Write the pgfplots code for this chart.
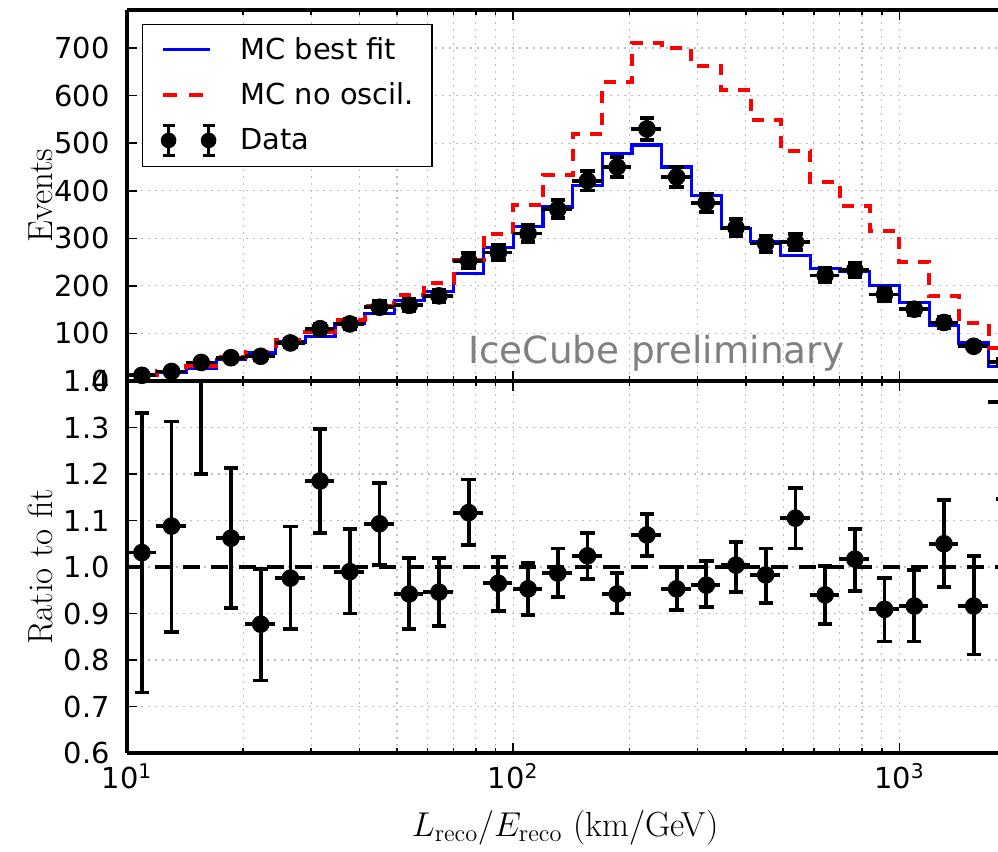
\documentclass[border=0pt]{standalone}
\usepackage{fontspec}
\newfontfamily\dejavu{DejaVu Sans}
\usepackage{pgfplots}
\usepackage{pgfplotstable}
\pgfplotsset{compat=1.18}
\usetikzlibrary{calc}

\definecolor{gridgray}{RGB}{190,190,190}
\definecolor{prelim}{RGB}{128,128,128}
\definecolor{fitblue}{RGB}{0,0,255}
\definecolor{noosred}{RGB}{255,0,0}

\newcommand{\TickFont}{\dejavu\fontsize{14.5}{17}\selectfont}
\newcommand{\LabFont}{\fontsize{17.5}{21}\selectfont}

% data points: bin centre, events, sqrt(N)
\pgfplotstableread{
x n e
10.93 12 3.5
13.04 20 4.5
15.57 39 6.2
18.59 49 7.0
22.19 52 7.2
26.49 80 8.9
31.62 110 10.5
37.75 120 11.0
45.06 155 12.4
53.80 159 12.6
64.22 179 13.4
76.67 253 15.9
91.52 270 16.4
109.26 310 17.6
130.43 361 19.0
155.71 421 20.5
185.88 450 21.2
221.9 530 23.0
264.9 429 20.7
316.2 375 19.4
377.5 322 17.9
450.6 289 17.0
538.0 292 17.1
642.2 222 14.9
766.7 234 15.3
915.2 182 13.5
1092.6 151 12.3
1304.3 123 11.1
1557.1 73 8.5
1858.8 40 6.3
}\datatab

% histogram steps: left bin edge, best fit, no oscillation
\pgfplotstableread{
x fit noosc
10 11.6 12
11.938 18.4 21
14.251 26 32
17.012 46 50
20.309 59 62
24.245 82 87
28.943 93 102
34.551 121 128
41.246 142 158
49.239 169 180
58.780 189 205
70.170 226 255
83.767 280 310
100 325 370
119.38 366 433
142.51 411 519
170.12 478 628
203.09 496 710
242.45 450 700
289.43 390 663
345.51 321 612
412.46 294 548
492.39 264 484
587.80 236 418
701.70 230 367
837.67 200 315
1000 165 250
1193.8 117 178
1425.1 80 121
1701.2 30 70
2030.9 30 70
}\histtab

% ratio data / fit
\pgfplotstableread{
x r ep em
10.93 1.031 0.301 0.301
13.04 1.088 0.225 0.227
15.57 1.50 0.30 0.30
18.59 1.062 0.151 0.150
22.19 0.877 0.119 0.121
26.49 0.976 0.111 0.110
31.62 1.185 0.112 0.112
37.75 0.990 0.092 0.090
45.06 1.093 0.088 0.088
53.80 0.942 0.078 0.076
64.22 0.946 0.074 0.073
76.67 1.117 0.071 0.070
91.52 0.965 0.057 0.060
109.26 0.953 0.055 0.056
130.43 0.987 0.053 0.052
155.71 1.024 0.049 0.050
185.88 0.942 0.045 0.042
221.9 1.069 0.045 0.045
264.9 0.953 0.047 0.046
316.2 0.961 0.052 0.047
377.5 1.004 0.050 0.058
450.6 0.983 0.057 0.060
538.0 1.105 0.065 0.065
642.2 0.940 0.062 0.063
766.7 1.017 0.065 0.069
915.2 0.909 0.067 0.069
1092.6 0.916 0.078 0.076
1304.3 1.050 0.094 0.093
1557.1 0.916 0.108 0.104
1858.8 1.355 0.210 0.209
}\ratiotab

\begin{document}
\begin{tikzpicture}
\begin{axis}[
    name=top, scale only axis, width=435.5bp, height=185.5bp,
    xmode=log, xmin=10, xmax=1800, ymin=0, ymax=780,
    axis x line*=box, axis y line*=left,
    axis line style={line width=2bp, black},
    tick align=inside, xtick pos=both,
    xtick={10,100,1000},
    minor xtick={20,30,40,50,60,70,80,90,200,300,400,500,600,700,800,900},
    major tick length=5bp, minor tick length=2.5bp,
    tick style={black, line width=0.8bp},
    xmajorgrids=true, xminorgrids=true, ymajorgrids=true,
    grid style={gridgray, line width=0.6bp, dash pattern=on 1bp off 2.5bp},
    yticklabel style={font=\TickFont, inner xsep=0pt, xshift=-8.5bp},
    xticklabels={},
    /pgf/number format/assume math mode=true,
    ytick={0,100,200,300,400,500,600,700},
    ylabel={Events},
    ylabel style={at={(axis description cs:-0.0987,0.5)}, anchor=center, font=\LabFont},
    legend cell align=left,
    legend style={at={(0,1)}, anchor=north west, xshift=7.5bp, yshift=-7bp,
      draw=black, line width=0.6bp, fill=white, inner xsep=9bp, inner ysep=4.5bp,
      row sep=6.5bp, font=\TickFont, nodes={inner sep=0pt, draw=none}},
]
\addplot[fitblue, line width=1.6bp, const plot mark left, forget plot] table[x=x, y=fit] {\histtab};
\addplot[noosred, line width=2bp, dash pattern=on 6bp off 5bp, const plot mark left, forget plot] table[x=x, y=noosc] {\histtab};
\addplot[black, only marks, mark=none, forget plot,
    error bars/x dir=both, error bars/x fixed relative=0.088, error bars/error mark=none,
    error bars/error bar style={line width=1.9bp}] table[x=x, y=n] {\datatab};
\addplot[black, only marks, mark=*, mark size=4.2bp, mark options={fill=black}, forget plot,
    error bars/y dir=both, error bars/y explicit,
    error bars/error bar style={line width=1.9bp},
    error bars/error mark options={rotate=90, line width=1.9bp, mark size=3.6bp}]
    table[x=x, y=n, y error=e] {\datatab};

\addlegendimage{legend image code/.code={
  \draw[fitblue, line width=1.6bp] (0bp,0bp) -- (23.5bp,0bp);
  \path[draw=none, fill=none] (0bp,-8bp) rectangle (39bp,8bp);}}
\addlegendentry{MC best fit}
\addlegendimage{legend image code/.code={
  \draw[noosred, line width=2bp, dash pattern=on 7bp off 6bp] (0bp,0bp) -- (23.5bp,0bp);
  \path[draw=none, fill=none] (0bp,-8bp) rectangle (39bp,8bp);}}
\addlegendentry{MC no oscil.}
\addlegendimage{legend image code/.code={
  \draw[black, line width=1.8bp] (3bp,-7.5bp) -- (3bp,7.5bp) (23bp,-7.5bp) -- (23bp,7.5bp)
    (0bp,-7.5bp) -- (6bp,-7.5bp) (0bp,7.5bp) -- (6bp,7.5bp)
    (20bp,-7.5bp) -- (26bp,-7.5bp) (20bp,7.5bp) -- (26bp,7.5bp);
  \fill[black] (3bp,0bp) circle (3.6bp) (23bp,0bp) circle (3.6bp);
  \path[draw=none, fill=none] (0bp,-8bp) rectangle (39bp,8bp);}}
\addlegendentry{Data}

\node[anchor=base west, inner sep=0pt, text=prelim, font=\dejavu\fontsize{18.75}{22}\selectfont]
  at (rel axis cs:0.3915,0.0485) {IceCube preliminary};
\end{axis}

\begin{axis}[
    name=bot, scale only axis, width=435.5bp, height=186bp,
    at={(top.south west)}, anchor=north west,
    xmode=log, xmin=10, xmax=1800, ymin=0.6, ymax=1.4,
    axis x line*=box, axis y line*=left,
    axis line style={line width=2bp, black},
    tick align=inside, xtick pos=both,
    xtick={10,100,1000},
    minor xtick={20,30,40,50,60,70,80,90,200,300,400,500,600,700,800,900},
    major tick length=5bp, minor tick length=2.5bp,
    tick style={black, line width=0.8bp},
    xmajorgrids=true, xminorgrids=true, ymajorgrids=true,
    grid style={gridgray, line width=0.6bp, dash pattern=on 1bp off 2.5bp},
    ytick={0.6,0.7,0.8,0.9,1.0,1.1,1.2,1.3,1.4},
    yticklabel style={font=\TickFont, inner xsep=0pt, xshift=-8.5bp,
      /pgf/number format/fixed, /pgf/number format/fixed zerofill, /pgf/number format/precision=1},
    /pgf/number format/assume math mode=true,
    xticklabel pos=lower,
    xticklabel style={font=\TickFont, inner sep=0pt, yshift=-5bp},
    xticklabels={10\textsuperscript{1},10\textsuperscript{2},10\textsuperscript{3}},
    ylabel={Ratio to fit},
    ylabel style={at={(axis description cs:-0.0987,0.5)}, anchor=center, font=\LabFont},
    xlabel={$L_{\mathrm{reco}}/E_{\mathrm{reco}}$ (km/GeV)},
    xlabel style={at={(axis description cs:0.503,-0.2016)}, anchor=center, font=\LabFont},
]
\addplot[black, line width=1.7bp, dash pattern=on 8.5bp off 5.5bp, forget plot] coordinates {(10,1) (1800,1)};
\addplot[black, only marks, mark=none, forget plot,
    error bars/x dir=both, error bars/x fixed relative=0.088, error bars/error mark=none,
    error bars/error bar style={line width=1.9bp}] table[x=x, y=r] {\ratiotab};
\addplot[black, only marks, mark=*, mark size=4.2bp, mark options={fill=black}, forget plot,
    error bars/y dir=both, error bars/y explicit,
    error bars/error bar style={line width=1.9bp},
    error bars/error mark options={rotate=90, line width=1.9bp, mark size=3.6bp}]
    table[x=x, y=r, y error plus=ep, y error minus=em] {\ratiotab};
\end{axis}

\pgfresetboundingbox
\path[use as bounding box] ($(top.north west)+(-63.5bp,5bp)$) rectangle ($(bot.south west)+(435.5bp,-49.5bp)$);
\end{tikzpicture}
\end{document}
